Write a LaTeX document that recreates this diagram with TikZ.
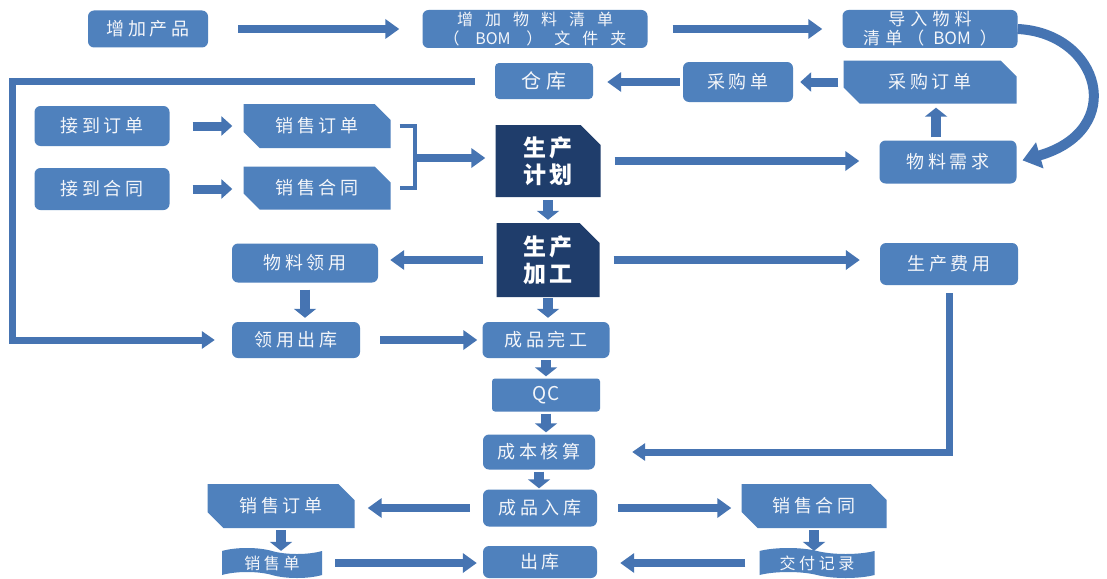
\documentclass[tikz,border=0pt]{standalone}
\usepackage{fontspec}
\setmainfont{Noto Sans CJK SC}[LetterSpace=22]
\newfontfamily\widecjk{Noto Sans CJK SC}[LetterSpace=75]
\newfontfamily\latin{Noto Sans CJK SC}
\newfontfamily\darkcjk{Noto Sans CJK SC}[LetterSpace=15]
\usetikzlibrary{arrows.meta,shapes.misc,shapes.symbols}

\definecolor{boxblue}{HTML}{4F81BD}
\definecolor{navybox}{HTML}{1F3D6B}
\definecolor{arrowblue}{HTML}{4674B2}
\definecolor{boxtext}{HTML}{F4F6FA}

\tikzset{
  box/.style={rectangle, rounded corners=6pt, fill=boxblue, text=boxtext,
    inner sep=0pt, align=center, font=\fontsize{18}{20}\selectfont},
  snipbox/.style={box, rounded corners=0pt, chamfered rectangle,
    chamfered rectangle corners={north east,south west},
    chamfered rectangle xsep=8pt, chamfered rectangle ysep=8pt},
  darkbox/.style={box, rounded corners=0pt, chamfered rectangle,
    chamfered rectangle corners=north east,
    chamfered rectangle xsep=10pt, chamfered rectangle ysep=10pt,
    fill=navybox, text=white, font=\fontsize{23}{27}\darkcjk\bfseries},
  tapebox/.style={box, rounded corners=0pt, tape,
    tape bend top=out and in, tape bend bottom=out and in,
    tape bend height=6pt, font=\fontsize{16}{18}\selectfont},
  barrow/.style={draw=arrowblue, line width=8pt, -{Triangle[length=14pt,width=19pt]}},
  sarrow/.style={draw=arrowblue, line width=9pt, -{Triangle[length=11pt,width=19pt]}},
  darrow/.style={draw=arrowblue, line width=10pt, -{Triangle[length=9pt,width=22pt]}},
  railarrow/.style={draw=arrowblue, line width=7pt, -{Triangle[length=13pt,width=17pt]}},
  curvearrow/.style={draw=arrowblue, line width=10pt, -{Triangle[length=18pt,width=26pt]}},
}

\begin{document}
\begin{tikzpicture}[x=1pt,y=-1pt]
\fill[white] (0,0) rectangle (1107,578);
\useasboundingbox (0,0) rectangle (1107,578);

% top row: product and bill of materials
\node[box, minimum width=120pt, minimum height=37pt] (addprod) at (148,29) {增加产品};
\node[box, minimum width=225pt, minimum height=38pt, font=\fontsize{16}{19}\widecjk] (addbom) at (535,29)
  {增加物料清单\\（\ {\latin BOM}\ ）文件夹};
\node[box, minimum width=175pt, minimum height=38pt, font=\fontsize{17}{19}\addfontfeatures{LetterSpace=30}] (impbom) at (930,29)
  {导入物料\\清单（\ {\latin BOM}\ ）};

% purchasing row
\node[box, rounded corners=4pt, minimum width=98pt, minimum height=36pt, font=\fontsize{20}{22}\selectfont] (store) at (544,81) {仓库};
\node[box, minimum width=110pt, minimum height=40pt] (purch) at (738,82) {采购单};
\node[snipbox, minimum width=173pt, minimum height=43pt] (purord) at (930,82) {采购订单};
\node[box, minimum width=137pt, minimum height=43pt] (matreq) at (948,162) {物料需求};

% orders and contracts
\node[box, minimum width=135pt, minimum height=40pt] (getord) at (102,126) {接到订单};
\node[snipbox, minimum width=147pt, minimum height=44pt] (salord) at (317,126) {销售订单};
\node[box, minimum width=135pt, minimum height=42pt] (getcon) at (102,189) {接到合同};
\node[snipbox, minimum width=147pt, minimum height=43pt] (salcon) at (317,188) {销售合同};

% production
\node[darkbox, minimum width=105pt, minimum height=72pt] (plan) at (548,161) {生产\\计划};
\node[darkbox, minimum width=103pt, minimum height=74pt] (proc) at (548,260) {生产\\加工};
\node[box, minimum width=146pt, minimum height=39pt] (matuse) at (305,263) {物料领用};
\node[box, minimum width=138pt, minimum height=42pt] (cost) at (949,264) {生产费用};
\node[box, minimum width=128pt, minimum height=36pt] (issue) at (296,340) {领用出库};
\node[box, minimum width=127pt, minimum height=36pt] (done) at (546,340) {成品完工};
\node[box, rounded corners=3pt, minimum width=108pt, minimum height=33pt, font=\fontsize{19}{21}\latin] (qc) at (546,395) {Q\kern1pt C};
\node[box, minimum width=112pt, minimum height=35pt] (acct) at (539,452) {成本核算};
\node[box, minimum width=114pt, minimum height=37pt] (instock) at (540,508) {成品入库};

% sales and delivery
\node[snipbox, minimum width=147pt, minimum height=44pt] (salord2) at (281,506) {销售订单};
\node[snipbox, minimum width=145pt, minimum height=44pt] (salcon2) at (814,506) {销售合同};
\node[tapebox, minimum width=100pt, minimum height=30pt] (bill) at (272,563) {销售单};
\node[box, minimum width=114pt, minimum height=32pt] (out) at (540,562) {出库};
\node[tapebox, minimum width=115pt, minimum height=30pt] (deliv) at (817,563) {交付记录};

% helper points
\coordinate (leftrail) at (12,200);
\coordinate (brk) at (415,158);

% top row connectors
\draw[barrow, shorten <=30pt, shorten >=23pt] (addprod.east) -- (addprod.east -| addbom.west);
\draw[barrow, shorten <=25pt, shorten >=20pt] (addbom.east) -- (addbom.east -| impbom.west);
\draw[curvearrow, shorten >=6pt] (impbom.east) .. controls (1100,33) and (1128,130) .. (matreq.east);

% purchasing connectors
\draw[barrow, shorten <=3pt, shorten >=14pt] (purch.west) -- (purch.west -| store.east);
\draw[sarrow, shorten <=5pt, shorten >=7pt] (purord.west) -- (purord.west -| purch.east);
\draw[darrow, shorten <=3pt, shorten >=4pt] ([xshift=-12pt]matreq.north) -- ([xshift=-12pt]matreq.north |- purord.south);

% warehouse rail down to issue
\draw[railarrow, shorten <=20pt, shorten >=17pt]
  (store.west) -- (store.west -| leftrail) -- (leftrail |- issue.west) -- (issue.west);

% orders and contracts into the plan
\draw[sarrow, shorten <=23pt, shorten >=11pt] (getord.east) -- (getord.east -| salord.west);
\draw[sarrow, shorten <=23pt, shorten >=11pt] (getcon.east) -- (getcon.east -| salcon.west);
\draw[draw=arrowblue, line width=4pt]
  ([xshift=9pt]salord.east) -| (brk) |- ([xshift=9pt]salcon.east);
\draw[barrow, shorten >=10pt] (brk) -- (brk -| plan.west);

% production connectors
\draw[barrow, shorten <=14pt, shorten >=20pt] (plan.east) -- (plan.east -| matreq.west);
\draw[darrow, shorten <=3pt, shorten >=3pt] (plan.south) -- (proc.north);
\draw[barrow, shorten <=13pt, shorten >=12pt] (proc.west) -- (proc.west -| matuse.east);
\draw[barrow, shorten <=14pt, shorten >=20pt] (proc.east) -- (proc.east -| cost.west);
\draw[darrow, shorten <=7pt, shorten >=4pt] (matuse.south) -- (matuse.south |- issue.north);
\draw[barrow, shorten <=20pt, shorten >=5pt] (issue.east) -- (issue.east -| done.west);
\draw[darrow, shorten <=1pt, shorten >=4pt] (proc.south) -- (proc.south |- done.north);
\draw[darrow, shorten <=2pt, shorten >=2pt] (done.south) -- (done.south |- qc.north);
\draw[darrow, shorten <=2pt, shorten >=2pt] (qc.south) -- (qc.south |- acct.north);
\draw[railarrow, shorten <=8pt, shorten >=37pt] (cost.south) -- (cost.south |- acct.east) -- (acct.east);
\draw[darrow, shorten <=2pt, shorten >=1pt] (acct.south) -- (acct.south |- instock.north);

% sales and delivery connectors
\draw[barrow, shorten <=13pt, shorten >=13pt] (instock.west) -- (instock.west -| salord2.east);
\draw[barrow, shorten <=21pt, shorten >=10pt] (instock.east) -- (instock.east -| salcon2.west);
\draw[darrow, shorten <=2pt] (salord2.south) -- (salord2.south |- bill.north);
\draw[darrow, shorten <=2pt] (salcon2.south) -- (salcon2.south |- deliv.north);
\draw[barrow, shorten <=13pt, shorten >=6pt] (bill.east) -- (bill.east -| out.west);
\draw[barrow, shorten <=14pt, shorten >=23pt] (deliv.west) -- (deliv.west -| out.east);
\end{tikzpicture}
\end{document}
